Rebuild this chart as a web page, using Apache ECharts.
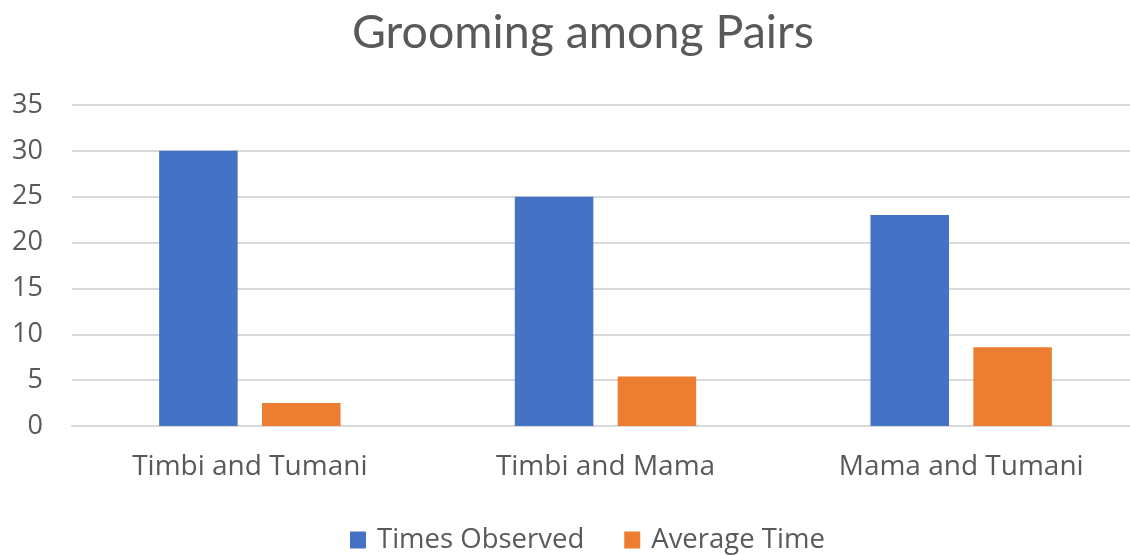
<!DOCTYPE html>
<html><head><meta charset="utf-8">
<script src="https://cdn.jsdelivr.net/npm/echarts@6/dist/echarts.min.js"></script>
<style>html,body{margin:0;padding:0;background:#fff;overflow:hidden}#c{width:1140px;height:555px}</style>
</head><body><div id="c"></div>
<script>
const categories = ["Timbi and Tumani", "Timbi and Mama", "Mama and Tumani"];
const timesObserved = [30, 25, 23];
const averageTime = [2.5, 5.4, 8.6];
const yTicks = [0, 5, 10, 15, 20, 25, 30, 35];

const chart = echarts.init(document.getElementById('c'));
const titleFont = 'Lato, "Open Sans", sans-serif';
const font = '"Open Sans", sans-serif';
chart.setOption({
  animation: false,
  title: { text: 'Grooming among Pairs', left: 347, top: 4,
    textStyle: { fontFamily: titleFont, fontSize: 46.5, fontWeight: 'normal', color: '#595959' } },
  legend: { top: 521, left: 345, itemWidth: 16, itemHeight: 17, itemGap: 40,
    icon: 'rect',
    textStyle: { fontFamily: font, fontSize: 27.5, color: '#595959', padding: [0, 0, 0, 6] } },
  grid: { left: 72, width: 1067, top: 105, bottom: 129 },
  xAxis: { type: 'category', data: categories,
    axisLine: { lineStyle: { color: '#d9d9d9', width: 2 } }, axisTick: { show: false },
    axisLabel: { fontFamily: font, fontSize: 28, color: '#595959', margin: 27 } },
  yAxis: { type: 'value', min: yTicks[0], max: yTicks[yTicks.length - 1], interval: 5,
    axisLine: { show: false }, axisTick: { show: false },
    splitLine: { lineStyle: { color: '#d9d9d9', width: 2 } },
    axisLabel: { fontFamily: font, fontSize: 27, color: '#595959', margin: 29 } },
  series: [
    { name: 'Times Observed', type: 'bar', data: timesObserved, barGap: '31%', barCategoryGap: '49%',
      itemStyle: { color: '#4472C4' } },
    { name: 'Average Time', type: 'bar', data: averageTime,
      itemStyle: { color: '#ED7D31' } }
  ]
});
</script></body></html>
